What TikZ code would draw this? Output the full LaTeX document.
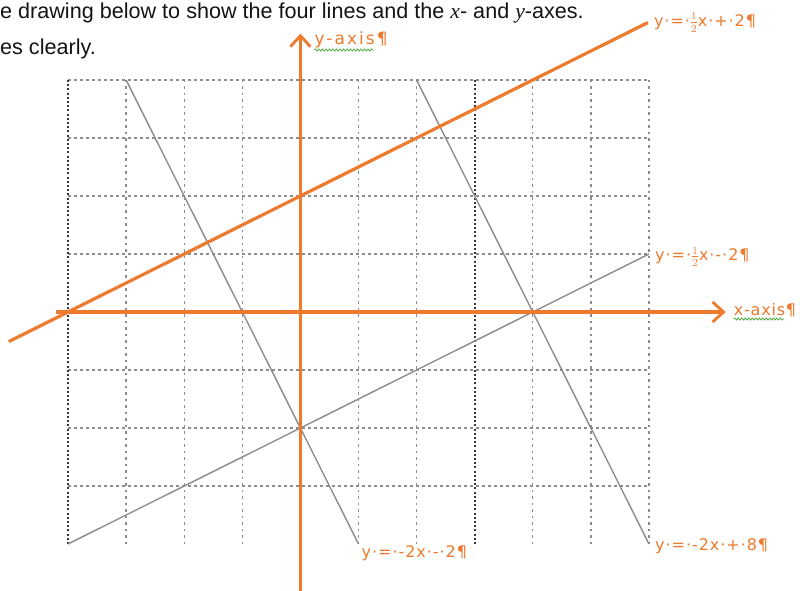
\documentclass[tikz,border=0pt]{standalone}
\usepackage{fontspec}
\setmainfont{Liberation Sans}
\newfontfamily\serifit{Liberation Serif}[ItalicFont=* Italic]
\newfontfamily\lblfont{DejaVu Sans}[LetterSpace=6]
\newfontfamily\axfont{DejaVu Sans}[LetterSpace=12]
\newfontfamily\axxfont{DejaVu Sans}[LetterSpace=5]
\usetikzlibrary{arrows.meta,decorations.pathmorphing}
\definecolor{org}{RGB}{237,122,45}
\definecolor{gridgray}{RGB}{140,140,140}
\definecolor{darkgrid}{RGB}{55,55,55}
\definecolor{linegray}{RGB}{140,140,140}
\definecolor{txt}{RGB}{20,20,20}
\definecolor{spell}{RGB}{80,170,60}
\newcommand\hfr{$\frac{1}{2}$}
\tikzset{
  hgrid/.style={draw=gridgray, line width=1.3pt, dash pattern=on 3pt off 3pt},
  vgrid/.style={draw=gridgray, line width=1.3pt, dash pattern=on 2.5pt off 4pt},
  darkv/.style={draw=darkgrid, line width=2pt, dash pattern=on 2pt off 2.2pt},
  graphline/.style={draw=linegray, line width=1.4pt},
  orgline/.style={draw=org, line width=3.2pt},
  axisline/.style={draw=org, line width=3.2pt, -{Straight Barb[length=11pt,width=20pt,line width=2.8pt]}},
  eqlabel/.style={text=org, font=\lblfont\fontsize{16}{18}\selectfont, inner sep=0pt},
  axlabel/.style={text=org, font=\axfont\fontsize{17}{19}\selectfont, inner sep=0pt},
  axxlabel/.style={text=org, font=\axxfont\fontsize{16}{18}\selectfont, inner sep=0pt},
  header/.style={text=txt, font=\fontsize{21.6}{24}\selectfont, inner sep=0pt, anchor=base west},
  wavy/.style={draw=spell, line width=0.8pt, decorate, decoration={snake, segment length=3.5pt, amplitude=1pt}}
}
\begin{document}
\begin{tikzpicture}[x=1pt,y=-1pt]
\useasboundingbox[fill=white] (0,0) rectangle (800,591);

\node[header] (h1) at (0,19) {e drawing below to show the four lines and the {\serifit\itshape x}- and {\serifit\itshape y}-axes.};
\node[header] (h2) at (0,55) {es clearly.};

\begin{scope}[shift={(300.4,312)}, x=58.1pt, y=58pt]
  % grid
  \foreach \j in {-3,...,4} \draw[hgrid] (-4,\j) -- (6,\j);
  \foreach \i in {-3,-2,-1,0,1,2,4,5,6} \draw[vgrid] (\i,4) -- (\i,-4);
  \foreach \i in {-4,3} \draw[darkv] (\i,4) -- (\i,-4);

  % endpoints
  \coordinate (a1) at (-4,-4);
  \coordinate (a2) at (6,1);
  \coordinate (b1) at (-3,4);
  \coordinate (b2) at (1,-4);
  \coordinate (c1) at (2,4);
  \coordinate (c2) at (6,-4);
  \coordinate (d1) at (-5.02,-0.51);
  \coordinate (d2) at (5.98,4.99);
  \coordinate (xs) at (-4.2,0);
  \coordinate (xe) at (7.32,0);
  \coordinate (ys) at (0,-4.85);
  \coordinate (ye) at (0,4.8);

  % gray lines
  \draw[graphline] (a1) -- (a2);
  \draw[graphline] (b1) -- (b2);
  \draw[graphline] (c1) -- (c2);

  % orange
  \draw[axisline] (xs) -- (xe);
  \draw[axisline] (ys) -- (ye);
  \draw[orgline] (d1) -- (d2);

  % labels
  \node[eqlabel, anchor=west] (ld) at ([xshift=6pt,yshift=0pt]d2) {y·=·\hfr x·+·2¶};
  \node[eqlabel, anchor=west] (la) at ([xshift=6pt,yshift=-3pt]a2) {y·=·\hfr x·-·2¶};
  \node[eqlabel, anchor=north west] (lb) at ([xshift=3pt,yshift=-1pt]b2) {y·=·-2x·-·2¶};
  \node[eqlabel, anchor=west] (lc) at ([xshift=6pt,yshift=-2pt]c2) {y·=·-2x·+·8¶};
  \node[axxlabel, anchor=west] (lx) at ([xshift=8pt,yshift=2pt]xe) {x-axis¶};
  \node[axlabel, anchor=west] (ly) at ([xshift=14pt,yshift=-6pt]ye) {y-axis¶};
  \draw[wavy] ([yshift=-2pt]lx.south west) -- ([yshift=-2pt,xshift=-12pt]lx.south east);
  \draw[wavy] ([yshift=-2pt]ly.south west) -- ([yshift=-2pt,xshift=-14pt]ly.south east);
\end{scope}
\end{tikzpicture}
\end{document}
